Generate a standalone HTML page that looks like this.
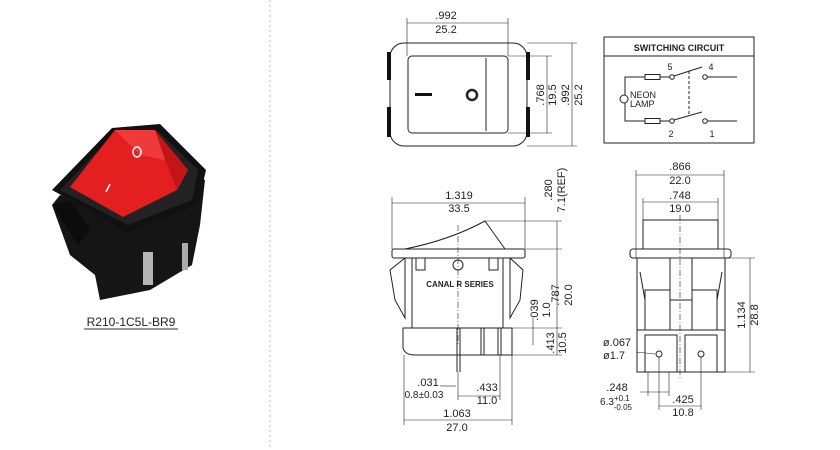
<!DOCTYPE html>
<html><head><meta charset="utf-8"><style>
html,body{margin:0;padding:0;background:#fff;width:840px;height:450px;overflow:hidden}
svg{display:block}
text{font-family:"Liberation Sans",sans-serif;fill:#222}
</style></head><body>
<svg width="840" height="450" viewBox="0 0 840 450" xmlns="http://www.w3.org/2000/svg">
<line x1="270" y1="0" x2="270" y2="450" stroke="#bbb" stroke-dasharray="2,3"/>
<!-- photo -->
<g>
<path d="M52 205 L60 195 L95 205 L110 200 L195 175 L205 180 L200 225 L192 265 L150 290 L100 300 L95 275 L70 255 Z" fill="#151515"/>
<path d="M52 190 L112 128 L160 124 L206 170 L198 205 L128 232 Z" fill="#111"/>
<path d="M60 190 L114 134 L158 131 L198 170 L192 200 L128 225 Z" fill="#222"/>
<path d="M70 187 L115 130 L155 130 L188 170 L177 190 L123 217 Z" fill="#e41f1f"/>
<path d="M155 130 L188 170 L177 190 L165 160 Z" fill="#c21515"/>
<path d="M115 130 L155 130 L165 160 L140 155 Z" fill="#ee3a3a"/>
<ellipse cx="137" cy="152" rx="4" ry="5" fill="none" stroke="#fff" stroke-width="1.5"/>
<line x1="110" y1="184" x2="106" y2="192" stroke="#fff" stroke-width="1.5"/>
<path d="M52 205 L70 200 L90 230 L78 245 Z" fill="#0c0c0c"/>
<rect x="143" y="252" width="10" height="33" fill="#b5b5b5"/><rect x="182" y="243" width="6" height="27" fill="#aaa"/>
<text x="131" y="326" font-size="12" text-anchor="middle" fill="#333">R210-1C5L-BR9</text>
<line x1="84" y1="329" x2="178" y2="329" stroke="#333"/>
</g>
<g fill="none" stroke="#222" stroke-width="1">
<!-- top view -->
<rect x="390" y="43" width="137" height="103" rx="14"/>
<rect x="408" y="56" width="100" height="77" rx="4"/>
<line x1="486" y1="58" x2="486" y2="131"/>
<line x1="407" y1="18" x2="407" y2="56" stroke-width=".6"/><line x1="508" y1="18" x2="508" y2="56" stroke-width=".6"/>
<line x1="407" y1="23" x2="508" y2="23" stroke-width=".6"/>
<line x1="508" y1="56" x2="552" y2="56" stroke-width=".6"/><line x1="508" y1="133" x2="552" y2="133" stroke-width=".6"/>
<line x1="527" y1="43" x2="577" y2="43" stroke-width=".6"/><line x1="527" y1="146" x2="577" y2="146" stroke-width=".6"/>
<line x1="547" y1="56" x2="547" y2="133" stroke-width=".6"/><line x1="572" y1="43" x2="572" y2="146" stroke-width=".6"/>
<circle cx="472" cy="95" r="5" stroke-width="2.5"/>
<!-- circuit -->
<rect x="604" y="37" width="150" height="106"/>
<line x1="604" y1="56" x2="754" y2="56"/>
<polyline points="645,77 625,77 625,121 645,121"/>
<rect x="645" y="74.5" width="15" height="5"/><rect x="645" y="118.5" width="15" height="5"/>
<line x1="660" y1="77" x2="670" y2="77"/><line x1="660" y1="121" x2="670" y2="121"/>
<circle cx="672" cy="77" r="2.3"/><circle cx="672" cy="121" r="2.3"/>
<circle cx="705" cy="77" r="2.3"/><circle cx="705" cy="121" r="2.3"/>
<line x1="674" y1="76" x2="702" y2="67"/><line x1="674" y1="120" x2="702" y2="112"/>
<line x1="707" y1="77" x2="737" y2="77"/><line x1="707" y1="121" x2="737" y2="121"/>
<line x1="689" y1="71" x2="689" y2="114" stroke-dasharray="3,2"/>
<circle cx="624" cy="99" r="4" fill="#fff"/>
<!-- side view -->
<line x1="392" y1="197" x2="392" y2="249" stroke-width=".6"/><line x1="525" y1="197" x2="525" y2="249" stroke-width=".6"/>
<line x1="392" y1="203" x2="525" y2="203" stroke-width=".6"/>
<rect x="392" y="249" width="133" height="9" rx="2"/>
<path d="M405 249 Q450 240 485 221 L505 249"/>
<line x1="485" y1="221" x2="562" y2="221" stroke-width=".6"/><line x1="525" y1="249" x2="562" y2="249" stroke-width=".6"/>
<rect x="412" y="258" width="91" height="70"/>
<path d="M405 258 L390 270 L395 300 L405 318 L405 258"/><path d="M510 258 L523 270 L520 300 L510 318 L510 258"/>
<rect x="416" y="258" width="9" height="12"/><rect x="489" y="258" width="9" height="12"/>
<path d="M403 328 L403 348 Q405 355 415 355 L512 355 L512 328 Z"/>
<line x1="481" y1="328" x2="481" y2="355"/><line x1="484" y1="328" x2="484" y2="355"/>
<line x1="457" y1="328" x2="457" y2="372"/><line x1="460" y1="328" x2="460" y2="372"/>
<line x1="498" y1="328" x2="498" y2="355"/><line x1="501" y1="328" x2="501" y2="355"/>
<circle cx="458" cy="265" r="5"/>
<line x1="458" y1="225" x2="458" y2="345" stroke-dasharray="6,2,1,2" stroke-width=".6"/>
<line x1="557" y1="221" x2="557" y2="355" stroke-width=".6"/>
<line x1="512" y1="355" x2="562" y2="355" stroke-width=".6"/><line x1="512" y1="328" x2="562" y2="328" stroke-width=".6"/>
<line x1="533" y1="318" x2="533" y2="345" stroke-width=".6"/>
<line x1="404" y1="355" x2="404" y2="425" stroke-width=".6"/><line x1="512" y1="355" x2="512" y2="425" stroke-width=".6"/>
<line x1="404" y1="420" x2="512" y2="420" stroke-width=".6"/>
<line x1="458" y1="372" x2="458" y2="400" stroke-width=".6"/><line x1="500" y1="355" x2="500" y2="400" stroke-width=".6"/>
<line x1="458" y1="396" x2="500" y2="396" stroke-width=".6"/>
<line x1="440" y1="386" x2="456" y2="386" stroke-width=".6"/>
<!-- front view -->
<line x1="636" y1="170" x2="636" y2="258" stroke-width=".6"/><line x1="724" y1="170" x2="724" y2="258" stroke-width=".6"/>
<line x1="636" y1="175" x2="724" y2="175" stroke-width=".6"/>
<line x1="643" y1="198" x2="643" y2="220" stroke-width=".6"/><line x1="718" y1="198" x2="718" y2="220" stroke-width=".6"/>
<line x1="643" y1="202" x2="718" y2="202" stroke-width=".6"/>
<rect x="643" y="220" width="75" height="29"/>
<rect x="630" y="249" width="101" height="9" rx="3"/>
<path d="M637 258 L637 372 L725 372 L725 258"/>
<path d="M640 272 L645 300 L645 330 M722 272 L717 300 L717 330"/>
<rect x="645" y="290" width="25" height="40"/><rect x="692" y="290" width="25" height="40"/>
<rect x="670" y="258" width="22" height="42"/>
<line x1="637" y1="330" x2="725" y2="330"/>
<rect x="645" y="335" width="32" height="37"/><rect x="685" y="335" width="32" height="37"/>
<circle cx="659" cy="354" r="3"/><circle cx="701" cy="354" r="3"/>
<line x1="680" y1="215" x2="680" y2="380" stroke-dasharray="6,2,1,2" stroke-width=".6"/>
<line x1="725" y1="258" x2="755" y2="258" stroke-width=".6"/><line x1="725" y1="372" x2="755" y2="372" stroke-width=".6"/>
<line x1="750" y1="258" x2="750" y2="372" stroke-width=".6"/>
<line x1="636" y1="352" x2="655" y2="354" stroke-width=".6"/>
<line x1="648" y1="372" x2="648" y2="396" stroke-width=".6"/><line x1="669" y1="372" x2="669" y2="396" stroke-width=".6"/>
<line x1="640" y1="392" x2="669" y2="392" stroke-width=".6"/>
<line x1="659" y1="357" x2="659" y2="410" stroke-width=".6"/><line x1="701" y1="357" x2="701" y2="410" stroke-width=".6"/>
<line x1="659" y1="406" x2="701" y2="406" stroke-width=".6"/>
</g>
<g fill="#111">
<rect x="387" y="52" width="4" height="28"/><rect x="387" y="107" width="4" height="30"/>
<rect x="526" y="52" width="4" height="28"/><rect x="526" y="107" width="4" height="30"/>
<rect x="415" y="93" width="17" height="3"/>
</g>
<g font-size="11" text-anchor="middle">
<text x="446" y="19">.992</text><text x="446" y="33">25.2</text>
<text transform="translate(544,95) rotate(-90)">.768</text>
<text transform="translate(556,95) rotate(-90)">19.5</text>
<text transform="translate(569,95) rotate(-90)">.992</text>
<text transform="translate(582,95) rotate(-90)">25.2</text>
<text x="679" y="51" font-size="9" font-weight="bold">SWITCHING CIRCUIT</text>
<text x="670" y="70" font-size="9">5</text><text x="711" y="70" font-size="9">4</text>
<text x="671" y="137" font-size="9">2</text><text x="712" y="137" font-size="9">1</text>
<text x="630" y="98" font-size="9" text-anchor="start">NEON</text><text x="630" y="107" font-size="9" text-anchor="start">LAMP</text>
<text x="459" y="199">1.319</text><text x="459" y="212">33.5</text>
<text x="460" y="287" font-size="8" font-weight="bold" font-family="Liberation Serif,serif">CANAL R SERIES</text>
<text transform="translate(552,190) rotate(-90)">.280</text>
<text transform="translate(565,190) rotate(-90)">7.1(REF)</text>
<text transform="translate(559,295) rotate(-90)">.787</text>
<text transform="translate(572,295) rotate(-90)">20.0</text>
<text transform="translate(538,310) rotate(-90)">.039</text>
<text transform="translate(550,310) rotate(-90)">1.0</text>
<text transform="translate(554,343) rotate(-90)">.413</text>
<text transform="translate(566,343) rotate(-90)">10.5</text>
<text x="428" y="386">.031</text><text x="424" y="398" font-size="10">0.8±0.03</text>
<text x="487" y="391">.433</text><text x="487" y="404">11.0</text>
<text x="457" y="417">1.063</text><text x="457" y="431">27.0</text>
<text x="680" y="170">.866</text><text x="680" y="184">22.0</text>
<text x="680" y="199">.748</text><text x="680" y="212">19.0</text>
<text transform="translate(745,315) rotate(-90)">1.134</text>
<text transform="translate(758,315) rotate(-90)">28.8</text>
<text x="617" y="346">ø.067</text><text x="614" y="359">ø1.7</text>
<text x="617" y="391">.248</text><text x="616" y="405" font-size="10">6.3<tspan font-size="8" dy="-4">+0.1</tspan><tspan font-size="8" dx="-16" dy="9">-0.05</tspan></text>
<text x="683" y="403">.425</text><text x="683" y="416">10.8</text>
</g>
</svg>
</body></html>
